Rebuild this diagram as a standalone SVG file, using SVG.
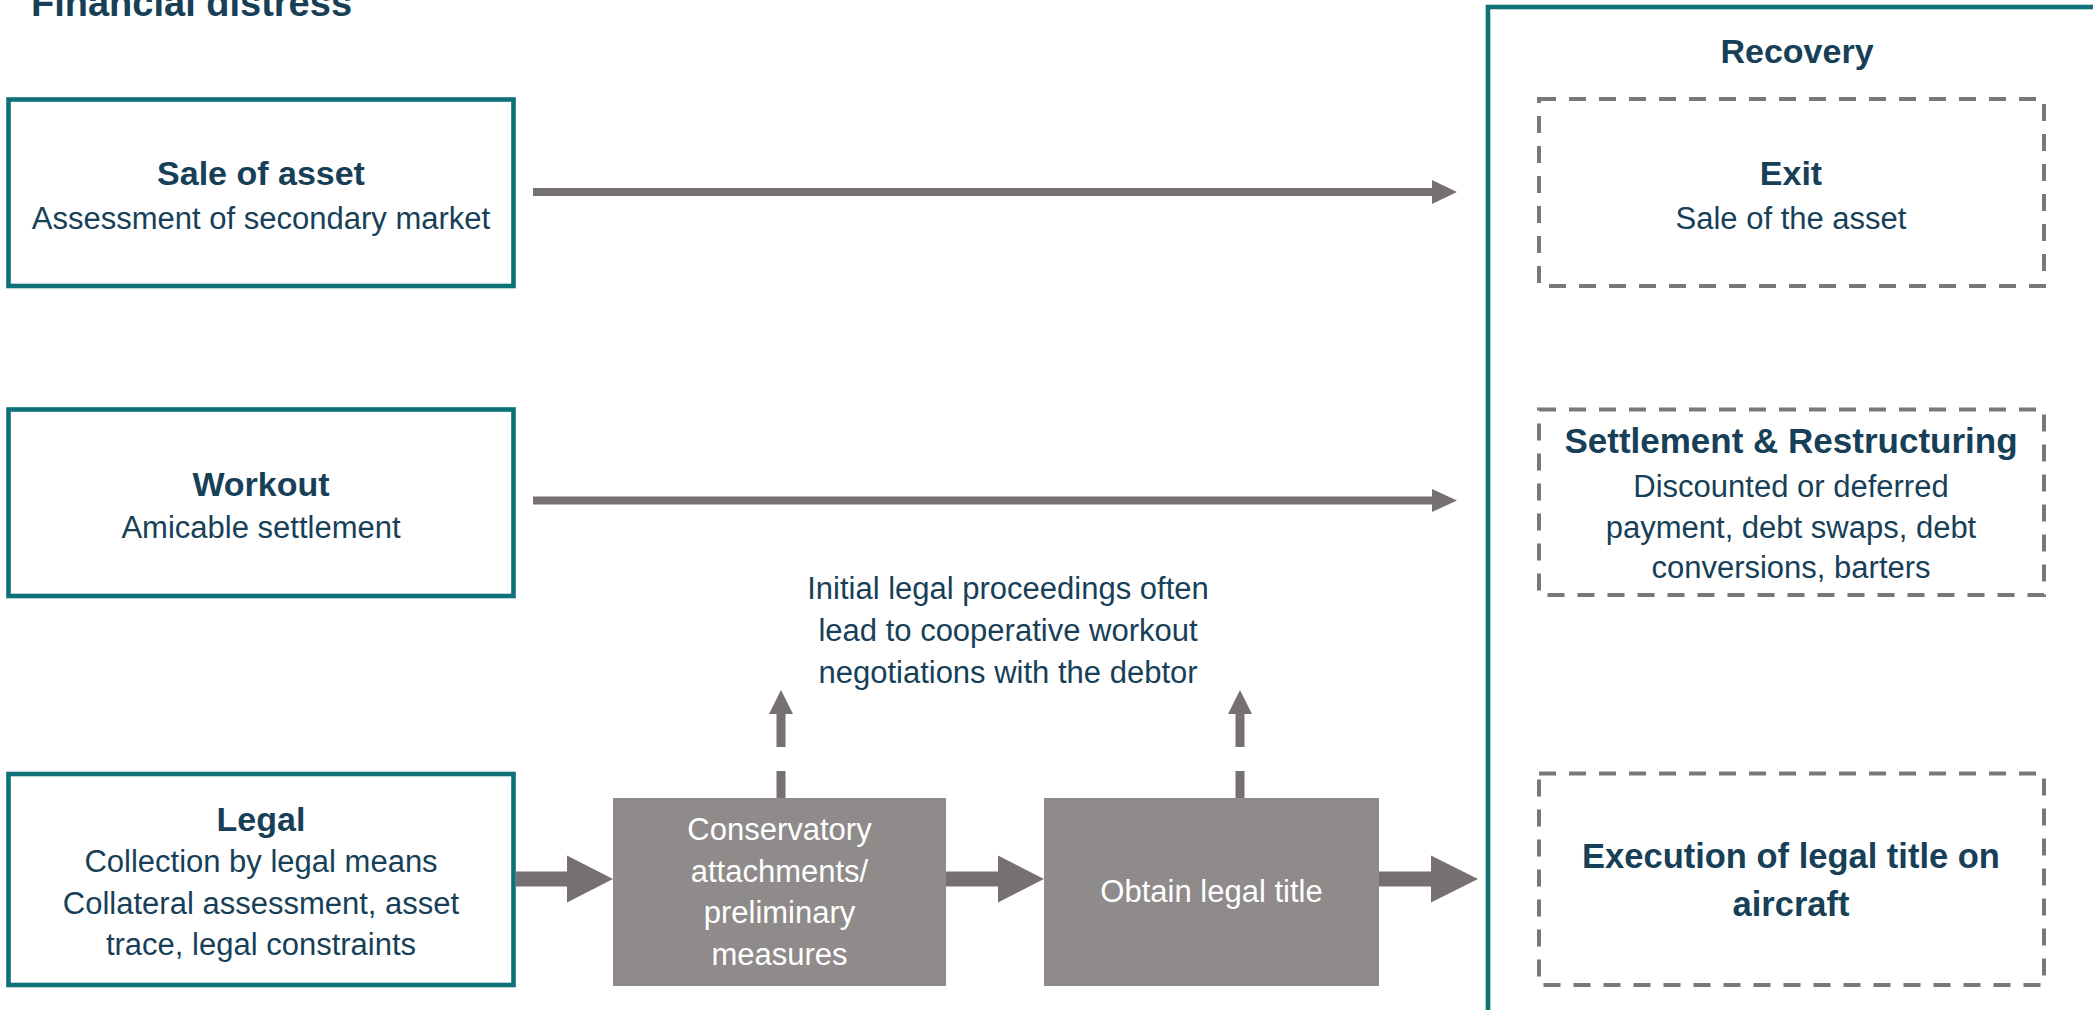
<svg xmlns="http://www.w3.org/2000/svg" width="2093" height="1010" viewBox="0 0 2093 1010">
<style>
.bg{fill:#ffffff}
.teal{fill:none;stroke:#0E7078;stroke-width:4.6}
.dash{fill:none;stroke:#7B7776;stroke-width:4;stroke-dasharray:17 13}
.gbox{fill:#8F8B8A}
.arr{fill:#767170}
.dline{stroke:#767170;stroke-width:9;fill:none}
text{font-family:"Liberation Sans",Arial,sans-serif;text-anchor:middle}
.h{font-size:34px;font-weight:bold;fill:#173F58}
.t{font-size:31px;fill:#173F58}
.w{font-size:31px;fill:#ffffff}
.title{font-size:38px;font-weight:bold;fill:#173F58;text-anchor:start}
</style>
<rect class="bg" x="0" y="0" width="2093" height="1010"/>
<text class="title" x="31" y="16">Financial distress</text>

<g id="recovery">
<rect class="teal" x="1488" y="7" width="700" height="1100"/>
<text class="h" x="1797" y="63">Recovery</text>
</g>

<g id="sale">
<rect class="teal" x="8.5" y="99.5" width="505" height="186.5"/>
<text class="h" x="261" y="185">Sale of asset</text>
<text class="t" x="261" y="229">Assessment of secondary market</text>
</g>

<g id="workout">
<rect class="teal" x="8.5" y="409.5" width="505" height="186.5"/>
<text class="h" x="261" y="496">Workout</text>
<text class="t" x="261" y="538">Amicable settlement</text>
</g>

<g id="legal">
<rect class="teal" x="8.5" y="774" width="505" height="211"/>
<text class="h" x="261" y="831">Legal</text>
<text class="t" x="261" y="872">Collection by legal means</text>
<text class="t" x="261" y="913.5">Collateral assessment, asset</text>
<text class="t" x="261" y="955">trace, legal constraints</text>
</g>

<g id="conservatory">
<rect class="gbox" x="613" y="798" width="333" height="188"/>
<text class="w" x="779.5" y="840">Conservatory</text>
<text class="w" x="779.5" y="882">attachments/</text>
<text class="w" x="779.5" y="923">preliminary</text>
<text class="w" x="779.5" y="965">measures</text>
</g>

<g id="obtain">
<rect class="gbox" x="1044" y="798" width="335" height="188"/>
<text class="w" x="1211.5" y="902">Obtain legal title</text>
</g>

<g id="note">
<text class="t" x="1008" y="599">Initial legal proceedings often</text>
<text class="t" x="1008" y="641">lead to cooperative workout</text>
<text class="t" x="1008" y="683">negotiations with the debtor</text>
</g>

<g id="exit">
<rect class="dash" x="1539" y="99" width="505" height="187"/>
<text class="h" x="1791" y="185">Exit</text>
<text class="t" x="1791" y="229">Sale of the asset</text>
</g>

<g id="settlement">
<rect class="dash" x="1539" y="409.5" width="505" height="185.5"/>
<text class="h" x="1791" y="453" style="font-size:35px">Settlement &amp; Restructuring</text>
<text class="t" x="1791" y="496.5">Discounted or deferred</text>
<text class="t" x="1791" y="538">payment, debt swaps, debt</text>
<text class="t" x="1791" y="578">conversions, barters</text>
</g>

<g id="execution">
<rect class="dash" x="1539" y="773.5" width="505" height="211.5"/>
<text class="h" x="1791" y="868" style="font-size:34.5px">Execution of legal title on</text>
<text class="h" x="1791" y="916" style="font-size:34.5px">aircraft</text>
</g>

<g id="connectors">
<path class="arr" d="M533 188 H1432 V180 L1457 192 L1432 204 V196 H533 Z"/>
<path class="arr" d="M533 496.5 H1432 V489 L1457 500.5 L1432 512 V504.5 H533 Z"/>
<path class="arr" d="M516 871.5 H567 V855.5 L613 879 L567 902.5 V886.5 H516 Z"/>
<path class="arr" d="M946 871.5 H998 V855.5 L1044 879 L998 902.5 V886.5 H946 Z"/>
<path class="arr" d="M1379 871.5 H1431 V855.5 L1478 879 L1431 902.5 V886.5 H1379 Z"/>
<path class="dline" d="M781 798 V771 M781 747 V714"/>
<path class="arr" d="M769 714 L793 714 L781 690 Z"/>
<path class="dline" d="M1240 798 V771 M1240 747 V714"/>
<path class="arr" d="M1228 714 L1252 714 L1240 690 Z"/>
</g>
</svg>
